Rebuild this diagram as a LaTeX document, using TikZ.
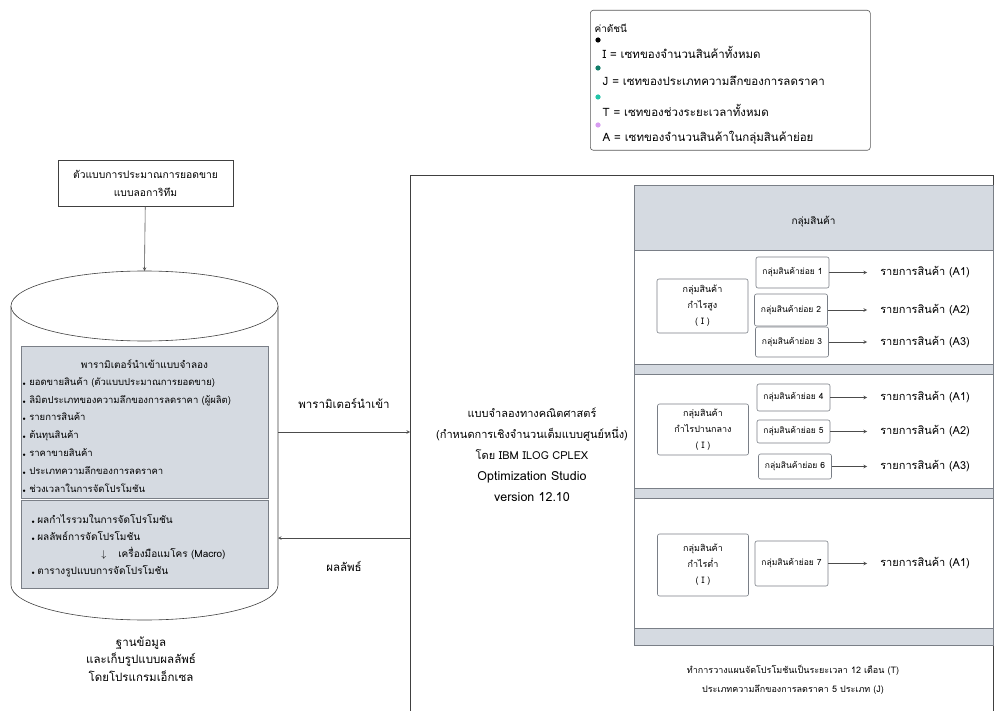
\documentclass[tikz,border=0pt]{standalone}
\usepackage{fontspec}
\setmainfont[Script=Thai]{Loma}
\usepackage{xcolor}
\usetikzlibrary{positioning,calc}

\definecolor{panelgray}{HTML}{D5DAE1}
\definecolor{edgegray}{HTML}{7A7F87}
\definecolor{dotteal}{HTML}{127D69}
\definecolor{dotaqua}{HTML}{22C4A8}
\definecolor{dotviolet}{HTML}{D89CF2}

\newcommand{\dotitem}{\makebox[7pt][l]{\tiny$\bullet$}}

\begin{document}
\begin{tikzpicture}[
    x=1pt, y=-1pt,
    line width=0.6pt,
    every node/.style={font=\fontsize{9}{11}\selectfont},
    box/.style={rectangle, draw=edgegray, fill=white, align=center},
    groupbox/.style={box, rounded corners=2pt, minimum width=91pt, font=\fontsize{9}{16}\selectfont},
    subbox/.style={box, rounded corners=2pt, minimum width=73pt, inner sep=1pt, font=\fontsize{8.5}{10}\selectfont},
    itemtxt/.style={anchor=west, inner sep=0pt, font=\fontsize{11}{13}\selectfont},
    keytxt/.style={anchor=west, font=\fontsize{11.5}{13}\selectfont},
    listtxt/.style={align=left, inner sep=0pt, font=\fontsize{9.5}{18}\selectfont},
    lbl/.style={font=\fontsize{11.5}{13}\selectfont},
    panel/.style={rectangle, draw=edgegray, fill=panelgray},
    band/.style={rectangle, draw=edgegray, fill=white, minimum width=359pt},
    arrow/.style={->, >=stealth, draw=black!70}
]
\useasboundingbox (0,0) rectangle (995,711);

\node[box, draw=black!65, rounded corners=3pt, minimum width=280pt, minimum height=140pt, anchor=north west] (legend) at (590,10) {};
\node[anchor=west, font=\fontsize{10}{12}\selectfont] (keyhead) at (591,28) {ค่าดัชนี};
\fill[black] (598,40) circle (2.6pt);
\node[keytxt] (keyI) at (599,52) {I = เซทของจำนวนสินค้าทั้งหมด};
\fill[dotteal] (598,68) circle (2.6pt);
\node[keytxt] (keyJ) at (599,81) {J = เซทของประเภทความลึกของการลดราคา};
\fill[dotaqua] (598,97) circle (2.6pt);
\node[keytxt] (keyT) at (599,110) {T = เซทของช่วงระยะเวลาทั้งหมด};
\fill[dotviolet] (598,125) circle (2.6pt);
\node[keytxt] (keyA) at (599,138) {A = เซทของจำนวนสินค้าในกลุ่มสินค้าย่อย};

\node[box, draw=black!75, minimum width=175pt, minimum height=46pt, font=\fontsize{10.3}{18}\selectfont] (logmodel) at (145.5,183) {ตัวแบบการประมาณการยอดขาย\\แบบลอการิทึม};

\draw[draw=black!75, fill=white] (11,306) -- (11,585) arc[start angle=180, end angle=0, x radius=133.5, y radius=35] -- (278,306);
\draw[draw=black!75, fill=white] (144.5,306) ellipse[x radius=133.5, y radius=35];
\coordinate (dbtop) at (144.5,271);
\coordinate (dbin) at (278,432);
\coordinate (dbout) at (278,538);
\draw[arrow] (logmodel) -- (dbtop);

\node[panel, minimum width=247pt, minimum height=152pt, anchor=north west] (params) at (21,346) {};
\node[font=\fontsize{10}{12}\selectfont] (paramhead) at (144.5,364) {พารามิเตอร์นำเข้าแบบจำลอง};
\node[listtxt, font=\fontsize{9.5}{17.8}\selectfont, anchor=north west] (paramlist) at (22,377) {\dotitem ยอดขายสินค้า (ตัวแบบประมาณการยอดขาย)\\\dotitem ลิมิตประเภทของความลึกของการลดราคา (ผู้ผลิต)\\\dotitem รายการสินค้า\\\dotitem ต้นทุนสินค้า\\\dotitem ราคาขายสินค้า\\\dotitem ประเภทความลึกของการลดราคา\\\dotitem ช่วงเวลาในการจัดโปรโมชัน};

\node[panel, minimum width=247pt, minimum height=88pt, anchor=north west] (results) at (21,500) {};
\node[listtxt, font=\fontsize{10}{17}\selectfont, anchor=north west] (resultlist) at (31,514) {\makebox[6pt][l]{\tiny$\bullet$}ผลกำไรรวมในการจัดโปรโมชัน\\\makebox[6pt][l]{\tiny$\bullet$}ผลลัพธ์การจัดโปรโมชัน\\\hspace*{70pt}$\downarrow$\hspace{12pt}เครื่องมือแมโคร (Macro)\\\makebox[6pt][l]{\tiny$\bullet$}ตารางรูปแบบการจัดโปรโมชัน};

\node[align=center, font=\fontsize{11.5}{17.5}\selectfont] (dblabel) at (141,659) {ฐานข้อมูล\\และเก็บรูปแบบผลลัพธ์\\โดยโปรแกรมเอ็กเซล};

\node[box, draw=black!75, minimum width=583pt, minimum height=560pt, anchor=north west] (frame) at (410,175) {};
\draw[arrow] (dbin) -- (dbin -| frame.west) node[midway, above=20pt, lbl] (lblparam) {พารามิเตอร์นำเข้า};
\draw[arrow] (frame.west |- dbout) -- (dbout) node[midway, below=20pt, lbl] (lblresult) {ผลลัพธ์};

\node[align=center, font=\fontsize{11}{21}\selectfont] (cplex) at (532,455) {แบบจำลองทางคณิตศาสตร์\\(กำหนดการเชิงจำนวนเต็มแบบศูนย์หนึ่ง)\\โดย IBM ILOG CPLEX\\{\fontsize{12.5}{15}\selectfont Optimization Studio}\\{\fontsize{12.5}{15}\selectfont version 12.10}};

\node[panel, minimum width=359pt, minimum height=460pt, anchor=north west] (groups) at (634,185) {};
\node[font=\fontsize{10}{12}\selectfont] (grouphead) at (813.5,222) {กลุ่มสินค้า};
\node[band, minimum height=114pt, anchor=north west] (high) at (634,250) {};
\node[band, minimum height=114pt, anchor=north west] (mid) at (634,374) {};
\node[band, minimum height=130pt, anchor=north west] (low) at (634,498) {};

\node[groupbox, minimum height=54pt] (ghigh) at (702.5,306) {กลุ่มสินค้า\\กำไรสูง\\( I )};
\node[groupbox, minimum height=51pt] (gmid) at (703,429.5) {กลุ่มสินค้า\\กำไรปานกลาง\\( I )};
\node[groupbox, minimum height=62pt] (glow) at (703,565) {กลุ่มสินค้า\\กำไรต่ำ\\( I )};

\node[subbox, minimum height=31pt] (sub1) at (792.5,272.5) {กลุ่มสินค้าย่อย 1};
\node[subbox, minimum height=32pt] (sub2) at (791,310) {กลุ่มสินค้าย่อย 2};
\node[subbox, minimum height=30pt] (sub3) at (792,342) {กลุ่มสินค้าย่อย 3};
\node[subbox, minimum height=27pt] (sub4) at (793.5,397.5) {กลุ่มสินค้าย่อย 4};
\node[subbox, minimum height=23pt] (sub5) at (793.5,431.5) {กลุ่มสินค้าย่อย 5};
\node[subbox, minimum height=25pt] (sub6) at (795,466.5) {กลุ่มสินค้าย่อย 6};
\node[subbox, minimum height=45pt] (sub7) at (791.5,563.5) {กลุ่มสินค้าย่อย 7};

\coordinate (tipcol) at (867,0);
\coordinate (itemcol) at (880,0);
\foreach \s/\a in {1/1,2/2,3/3,4/1,5/2,6/3,7/1} {
    \draw[arrow] (sub\s) -- (sub\s -| tipcol);
    \node[itemtxt] (item\s) at (sub\s -| itemcol) {รายการสินค้า (A\a)};
}

\node[align=center, font=\fontsize{9}{19}\selectfont] (plan) at (793,680) {ทำการวางแผนจัดโปรโมชันเป็นระยะเวลา 12 เดือน (T)\\ประเภทความลึกของการลดราคา 5 ประเภท (J)};
\end{tikzpicture}
\end{document}
